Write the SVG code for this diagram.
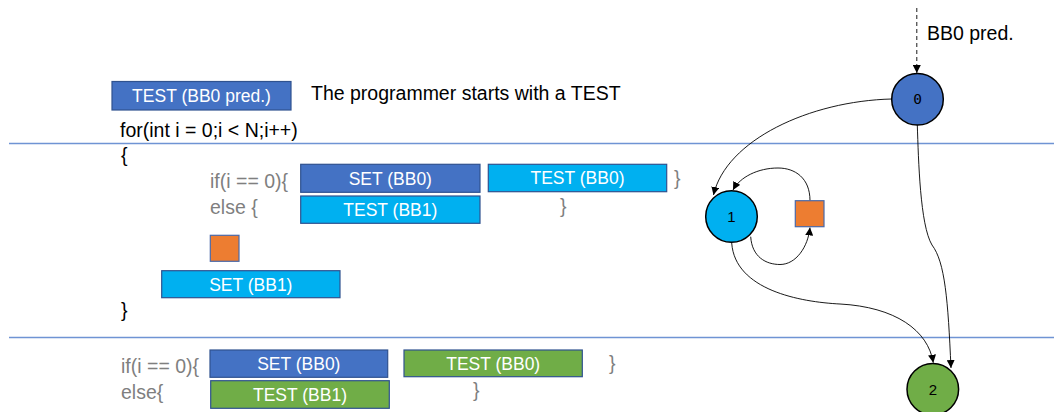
<svg xmlns="http://www.w3.org/2000/svg" width="1054" height="412" viewBox="0 0 1054 412">
  <defs>
    <marker id="arrow" viewBox="0 0 10 10" refX="10" refY="5" markerWidth="8" markerHeight="8" markerUnits="userSpaceOnUse" orient="auto">
      <path d="M0,0 L10,5 L0,10 z" fill="#000"/>
    </marker>
    <style>
      .txt { font-family: "Liberation Sans", Arial, sans-serif; font-size: 19.5px; fill: #000; }
      .code { font-family: "Liberation Sans", Arial, sans-serif; font-size: 19.5px; fill: #7f7f7f; }
      .btxt { font-family: "Liberation Sans", Arial, sans-serif; font-size: 17.5px; fill: #fff; text-anchor: middle; }
      .dark { fill: #4472c4; stroke: #2f528f; stroke-width: 1.2; }
      .light { fill: #00b0f0; stroke: #2f528f; stroke-width: 1.2; }
      .green { fill: #70ad47; stroke: #2f528f; stroke-width: 1.2; }
      .orange { fill: #ed7d31; stroke: #4a69a8; stroke-width: 1.2; }
      .sep { stroke: #6f94d4; stroke-width: 1.5; }
      .node { stroke: #000; stroke-width: 1.5; }
      .nlbl { font-family: "DejaVu Sans Mono", monospace; font-size: 14.5px; fill: #000; text-anchor: middle; }
      .nlbl2 { font-family: "Liberation Sans", Arial, sans-serif; font-size: 15px; fill: #000; text-anchor: middle; }
      .edge { fill: none; stroke: #000; stroke-width: 0.9; marker-end: url(#arrow); }
    </style>
  </defs>

  <rect width="1054" height="412" fill="#fff"/>

  <!-- section separators -->
  <line class="sep" x1="9" y1="143.5" x2="1054" y2="143.5"/>
  <line class="sep" x1="9" y1="337.5" x2="1054" y2="337.5"/>

  <!-- code listing -->
  <g id="intro">
    <rect class="dark" x="112" y="81.5" width="179" height="28.5"/>
    <text class="btxt" x="201.5" y="102">TEST (BB0 pred.)</text>
    <text class="txt" x="311" y="99.5">The programmer starts with a TEST</text>
    <text class="txt" x="120" y="137">for(int i = 0;i &lt; N;i++)</text>
    <text class="txt" x="121" y="162">{</text>
    <text class="txt" x="121" y="317">}</text>
  </g>

  <g id="loop-body">
    <text class="code" x="210" y="188">if(i == 0){</text>
    <text class="code" x="210" y="214">else {</text>
    <text class="code" x="674" y="185">}</text>
    <text class="code" x="560" y="213">}</text>
    <rect class="dark" x="300.7" y="164.3" width="179.3" height="28"/>
    <text class="btxt" x="390.3" y="184.7">SET (BB0)</text>
    <rect class="light" x="488.3" y="164.3" width="178.4" height="27.4"/>
    <text class="btxt" x="577.5" y="184.4">TEST (BB0)</text>
    <rect class="light" x="300.7" y="196" width="179.3" height="27.3"/>
    <text class="btxt" x="390.3" y="216">TEST (BB1)</text>
    <rect class="orange" x="210.3" y="235.3" width="28.7" height="26"/>
    <rect class="light" x="161.7" y="270.7" width="178.3" height="27"/>
    <text class="btxt" x="250.8" y="290.5">SET (BB1)</text>
  </g>

  <g id="after-loop">
    <text class="code" x="121" y="373">if(i == 0){</text>
    <text class="code" x="121" y="399">else{</text>
    <text class="code" x="609" y="370">}</text>
    <text class="code" x="473" y="397">}</text>
    <rect class="dark" x="210" y="350" width="177.7" height="27.3"/>
    <text class="btxt" x="298.8" y="370">SET (BB0)</text>
    <rect class="green" x="404" y="350" width="178.3" height="26.7"/>
    <text class="btxt" x="493.2" y="369.6">TEST (BB0)</text>
    <rect class="green" x="210.7" y="380.7" width="178.6" height="27.6"/>
    <text class="btxt" x="300" y="400.8">TEST (BB1)</text>
  </g>

  <!-- control-flow graph connectors -->
  <g id="connectors">
    <line x1="916.8" y1="8" x2="916.8" y2="73" stroke="#000" stroke-width="0.9" stroke-dasharray="4,3" marker-end="url(#arrow)"/>
    <path class="edge" d="M891.7,99 C810,101 726,140 713.5,195"/>
    <path class="edge" d="M810,200.7 C810,178 795,168 778,168 C758,168 740,177 733,190"/>
    <path class="edge" d="M750.7,236.7 C752,257 766,264.5 780,264.5 C796,264.5 808,247 810,227.5"/>
    <path class="edge" d="M731.7,243 C735,290 800,302 840,304 C895,307 928,330 933.3,362.7"/>
    <path class="edge" d="M917.3,125 C918.5,160 920,225 932,245 C945,262 948,300 951,368"/>
  </g>
  <text class="txt" x="927" y="40">BB0 pred.</text>

  <!-- graph nodes -->
  <g id="node0">
    <circle class="node" cx="917.5" cy="99.2" r="25.8" fill="#4472c4"/>
    <text class="nlbl" x="917.5" y="104.3">0</text>
  </g>
  <g id="node1">
    <circle class="node" cx="731.5" cy="216.5" r="25.8" fill="#00b0f0"/>
    <text class="nlbl2" x="731.5" y="222">1</text>
  </g>
  <g id="node-set">
    <rect class="orange" x="795.3" y="200.7" width="28.7" height="26"/>
  </g>
  <g id="node2">
    <circle class="node" cx="932.8" cy="389.2" r="25.8" fill="#70ad47"/>
    <text class="nlbl2" x="932.8" y="395">2</text>
  </g>
</svg>
